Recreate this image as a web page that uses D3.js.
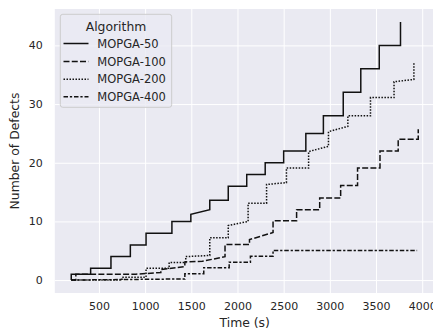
<!DOCTYPE html>
<html>
<head>
<meta charset="utf-8">
<script src="https://cdn.jsdelivr.net/npm/d3@7"></script>
<style>
  html, body { margin: 0; padding: 0; background: #ffffff; }
  svg { display: block; }
</style>
</head>
<body>
<svg id="chart" width="433" height="330"></svg>
<script>
// Cumulative defects found over time, one step series per population size.
const algorithms = ["MOPGA-50", "MOPGA-100", "MOPGA-200", "MOPGA-400"];

const mopga50 = [
  [200, 0], [200, 1], [410, 1], [410, 2], [630, 2], [630, 4], [840, 4], [840, 6],
  [1010, 6], [1010, 8], [1290, 8], [1290, 10], [1495, 10], [1495, 11.2], [1700, 12],
  [1700, 13.6], [1900, 13.6], [1900, 16], [2100, 16], [2100, 18], [2300, 18], [2300, 20],
  [2500, 20], [2500, 22], [2740, 22], [2740, 25], [2930, 25], [2930, 28], [3145, 28],
  [3145, 32], [3335, 32], [3335, 36], [3535, 36], [3535, 40], [3765, 40], [3765, 44]
];

const mopga100 = [
  [200, 0], [250, 0], [250, 1], [900, 1], [1170, 1.3], [1170, 1.8], [1430, 2.3],
  [1430, 3.1], [1620, 3.2], [1865, 4.0], [1865, 6.05], [2130, 6.05], [2130, 6.9],
  [2385, 8.1], [2385, 10.1], [2640, 10.1], [2640, 12], [2890, 12], [2890, 14],
  [3117, 14], [3117, 16.1], [3300, 16.1], [3300, 19.1], [3543, 19.1], [3543, 22],
  [3740, 22], [3740, 24], [3957, 24], [3957, 25.7]
];

const mopga200 = [
  [200, 0], [750, 0], [750, 0.5], [1010, 0.5], [1010, 2], [1260, 2], [1260, 3],
  [1440, 3], [1440, 4], [1700, 4.2], [1700, 7.2], [1900, 7.2], [1900, 9.3], [2115, 10],
  [2115, 13.1], [2315, 13.1], [2315, 16.3], [2530, 16.6], [2530, 19.1], [2770, 19.1],
  [2770, 21.9], [2985, 22.8], [2985, 25.3], [3195, 26.2], [3195, 28], [3440, 28],
  [3440, 31.1], [3695, 31.1], [3695, 33.8], [3910, 34.2], [3910, 37.2]
];

const mopga400 = [
  [200, 0], [800, 0.1], [1430, 0.2], [1430, 1.1], [1635, 1.1], [1635, 2.1], [1910, 2.1],
  [1910, 3.05], [2140, 3.05], [2140, 4.05], [2385, 4.05], [2385, 5.05], [3945, 5.05]
];

const xTicks = [500, 1000, 1500, 2000, 2500, 3000, 3500, 4000];
const yTicks = [0, 10, 20, 30, 40];

const seriesData = [mopga50, mopga100, mopga200, mopga400];
// Solid, dashed, dotted and dash-dot strokes
const dashes = [null, "6,2.25", "1.5,1.5", "4.5,1.875,2.25,1.875"];

const svg = d3.select("#chart");
const plot = { left: 54.8, right: 435.6, top: 9, bottom: 293 };
const textColor = "#262626";
const font = "DejaVu Sans, Liberation Sans, sans-serif";

const x = d3.scaleLinear().domain([22, 4145]).range([plot.left, plot.right]);
const y = d3.scaleLinear().domain([-2.2, 46.2]).range([plot.bottom, plot.top]);

// Panel background
svg.append("rect")
  .attr("x", plot.left).attr("y", plot.top)
  .attr("width", plot.right - plot.left).attr("height", plot.bottom - plot.top)
  .attr("fill", "#eaeaf2");

// Grid lines drawn from the axes
const xAxis = d3.axisBottom(x).tickValues(xTicks).tickFormat(d3.format("d"))
  .tickSize(-(plot.bottom - plot.top)).tickPadding(9);
const yAxis = d3.axisLeft(y).tickValues(yTicks).tickFormat(d3.format("d"))
  .tickSize(-(plot.right - plot.left)).tickPadding(12);

const gx = svg.append("g").attr("transform", `translate(0,${plot.bottom})`).call(xAxis);
const gy = svg.append("g").attr("transform", `translate(${plot.left},0)`).call(yAxis);

[gx, gy].forEach(g => {
  g.select(".domain").remove();
  g.selectAll(".tick line").attr("stroke", "#ffffff").attr("stroke-width", 1);
  g.selectAll(".tick text")
    .attr("fill", textColor)
    .style("font-family", font)
    .style("font-size", "11px");
});
gx.selectAll(".tick text").attr("dy", "0.71em");

// Step series
const line = d3.line().x(d => x(d[0])).y(d => y(d[1]));
svg.append("clipPath").attr("id", "plot-clip")
  .append("rect")
  .attr("x", plot.left).attr("y", plot.top)
  .attr("width", plot.right - plot.left).attr("height", plot.bottom - plot.top);

svg.append("g").attr("clip-path", "url(#plot-clip)")
  .selectAll("path")
  .data(seriesData)
  .join("path")
  .attr("d", line)
  .attr("fill", "none")
  .attr("stroke", "#111111")
  .attr("stroke-width", 1.5)
  .attr("stroke-linejoin", "miter")
  .attr("stroke-dasharray", (d, i) => dashes[i]);

// Axis labels
svg.append("text")
  .attr("x", (plot.left + plot.right) / 2 - 0.5)
  .attr("y", 327)
  .attr("text-anchor", "middle")
  .attr("fill", textColor)
  .style("font-family", font)
  .style("font-size", "12.4px")
  .text("Time (s)");

svg.append("text")
  .attr("transform", `translate(18.5,${(plot.top + plot.bottom) / 2}) rotate(-90)`)
  .attr("text-anchor", "middle")
  .attr("fill", textColor)
  .style("font-family", font)
  .style("font-size", "12.4px")
  .text("Number of Defects");

// Legend
const legend = svg.append("g");
legend.append("rect")
  .attr("x", 60.3).attr("y", 14.3)
  .attr("width", 111.4).attr("height", 93)
  .attr("rx", 2.5)
  .attr("fill", "#eaeaf2")
  .attr("fill-opacity", 0.8)
  .attr("stroke", "#cccccc")
  .attr("stroke-width", 1);

legend.append("text")
  .attr("x", 116)
  .attr("y", 30.5)
  .attr("text-anchor", "middle")
  .attr("fill", textColor)
  .style("font-family", font)
  .style("font-size", "12.4px")
  .text("Algorithm");

const rowY = [43.5, 61.5, 79.3, 96.8];
algorithms.forEach((name, i) => {
  legend.append("line")
    .attr("x1", 63.5).attr("x2", 88.5)
    .attr("y1", rowY[i]).attr("y2", rowY[i])
    .attr("stroke", "#111111")
    .attr("stroke-width", 1.5)
    .attr("stroke-dasharray", dashes[i]);
  legend.append("text")
    .attr("x", 97.3)
    .attr("y", rowY[i])
    .attr("dy", "0.36em")
    .attr("fill", textColor)
    .style("font-family", font)
    .style("font-size", "11.5px")
    .text(name);
});
</script>
</body>
</html>
